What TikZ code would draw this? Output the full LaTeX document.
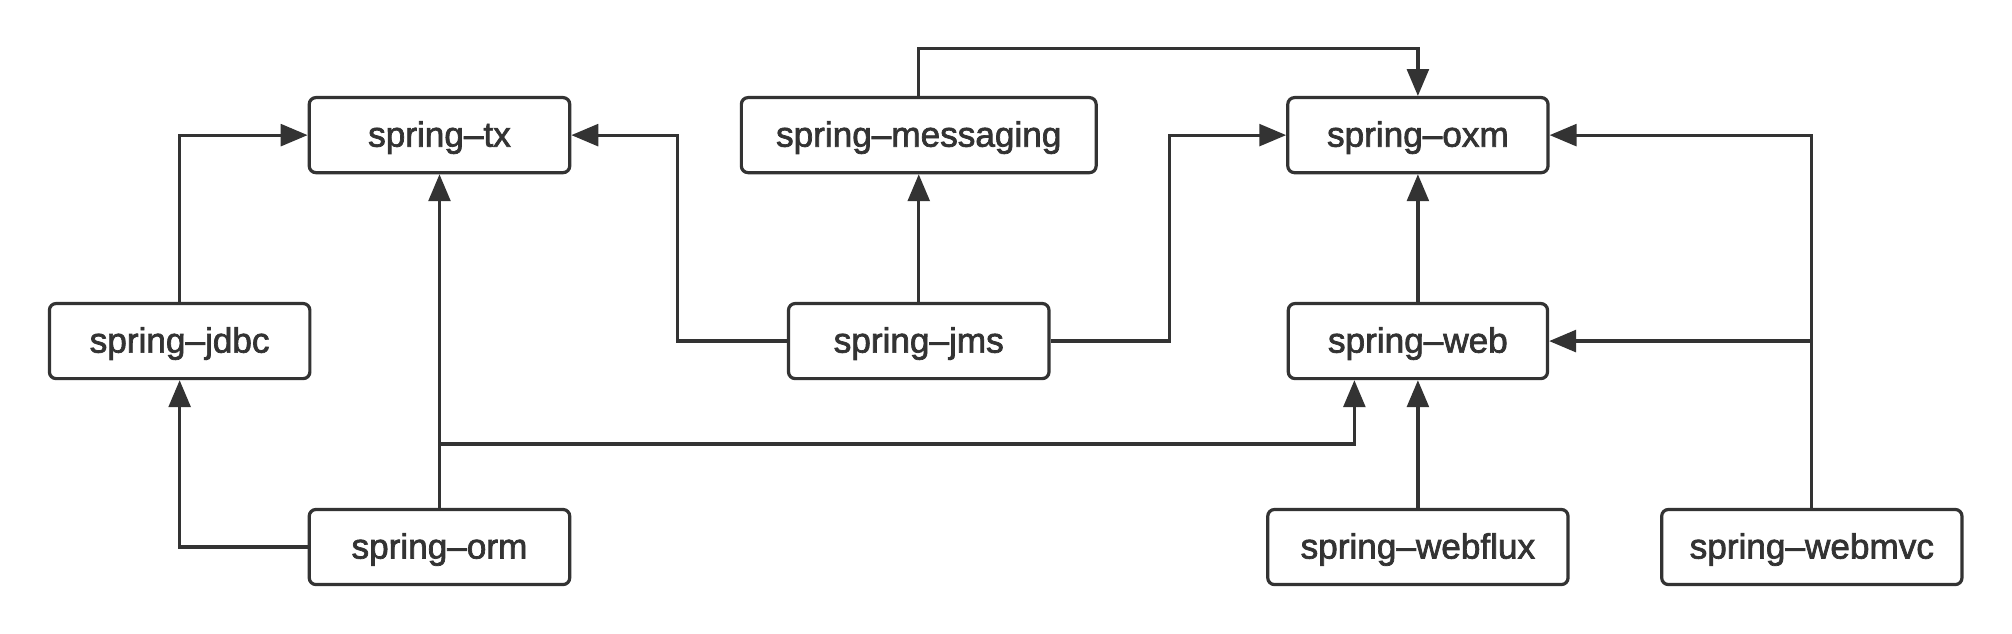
\documentclass[tikz,border=0pt]{standalone}
\usepackage{fontspec}
\setmainfont{Liberation Sans}
\newfontfamily\labelfont{Liberation Sans}[FakeBold=2]
\usetikzlibrary{arrows.meta}
\definecolor{ink}{HTML}{333333}
\tikzset{
  modbox/.style={draw=ink, line width=1.25pt, rounded corners=2.6pt, fill=white,
    minimum height=29.25pt, inner sep=0pt, text=ink,
    text height=10pt, text depth=1pt,
    font=\labelfont\fontsize{13.7}{16}\selectfont},
  arr/.style={draw=ink, line width=1.25pt, -{Triangle[length=10.5pt,width=8.5pt]}},
}
\begin{document}
\begin{tikzpicture}[x=0.5pt,y=-0.5pt]
\fill[white] (0,0) rectangle (1568,494);
\useasboundingbox (0,0) rectangle (1568,494);
\node[modbox, minimum width=101.5pt] (tx) at (342.5,105.3) {spring–tx};
\node[modbox, minimum width=138.25pt] (msg) at (716,105.3) {spring–messaging};
\node[modbox, minimum width=101.4pt] (oxm) at (1105,105.3) {spring–oxm};
\node[modbox, minimum width=101.5pt] (jdbc) at (140,265.8) {spring–jdbc};
\node[modbox, minimum width=101.5pt] (jms) at (716,265.8) {spring–jms};
\node[modbox, minimum width=101pt] (web) at (1105,265.8) {spring–web};
\node[modbox, minimum width=101.5pt] (orm) at (342.5,426.3) {spring–orm};
\node[modbox, minimum width=117pt] (webflux) at (1105,426.3) {spring–webflux};
\node[modbox, minimum width=117pt] (webmvc) at (1412,426.3) {spring–webmvc};
\coordinate (j1) at (342.5,346);
\draw[arr] (jdbc.north) |- (tx.west);
\draw[arr] (orm.north) -- (tx.south);
\draw[arr] (orm.west) -| (jdbc.south);
\draw[arr] (jms.west) -- ++(-85.5,0) |- (tx.east);
\draw[arr] (jms.north) -- (msg.south);
\draw[arr] (jms.east) -- ++(92.5,0) |- (oxm.west);
\draw[arr] (msg.north) -- ++(0,-37.2) -| (oxm.north);
\draw[arr] (web.north) -- (oxm.south);
\draw[arr] (webflux.north) -- (web.south);
\draw[arr] (j1) -| ([xshift=-24.75pt]web.south);
\draw[arr] (webmvc.north) |- (oxm.east);
\draw[arr] (webmvc.north |- web.east) -- (web.east);
\end{tikzpicture}
\end{document}
